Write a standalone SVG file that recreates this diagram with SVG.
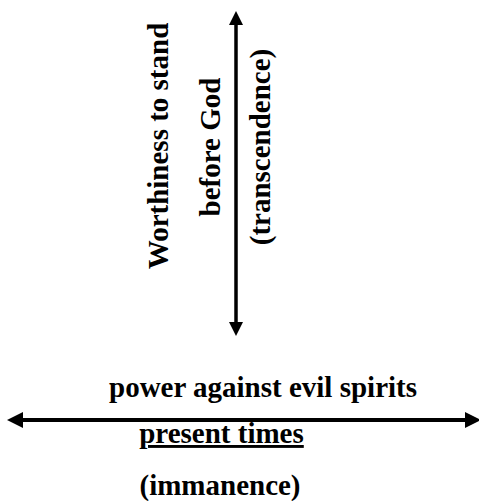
<svg xmlns="http://www.w3.org/2000/svg" width="479" height="501" viewBox="0 0 479 501">
<style>
.t{font-family:"Liberation Serif","Times New Roman",serif;font-weight:bold;font-size:29px;fill:#000;text-anchor:middle}
.c{stroke:#000;fill:none}
</style>
<defs>
<marker id="ah" viewBox="0 0 10 10" refX="0" refY="5" markerWidth="4" markerHeight="4.4" orient="auto-start-reverse" markerUnits="strokeWidth">
<path d="M0,0 L10,5 L0,10 z" fill="#000"/>
</marker>
</defs>
<g id="connectors">
<line class="c" x1="236" y1="25" x2="236" y2="322" stroke-width="3.5" marker-start="url(#ah)" marker-end="url(#ah)"/>
<line class="c" x1="23" y1="420" x2="465" y2="420" stroke-width="4" marker-start="url(#ah)" marker-end="url(#ah)"/>
</g>
<g id="worthiness"><text class="t" transform="translate(168,146) rotate(-90)">Worthiness to stand</text></g>
<g id="beforeGod"><text class="t" transform="translate(220,147) rotate(-90)">before God</text></g>
<g id="transcendence"><text class="t" transform="translate(270,147) rotate(-90)">(transcendence)</text></g>
<g id="power"><text class="t" x="263" y="397">power against evil spirits</text></g>
<g id="present"><text class="t" x="221.5" y="443" text-decoration="underline">present times</text></g>
<g id="immanence"><text class="t" x="220" y="495">(immanence)</text></g>
</svg>
